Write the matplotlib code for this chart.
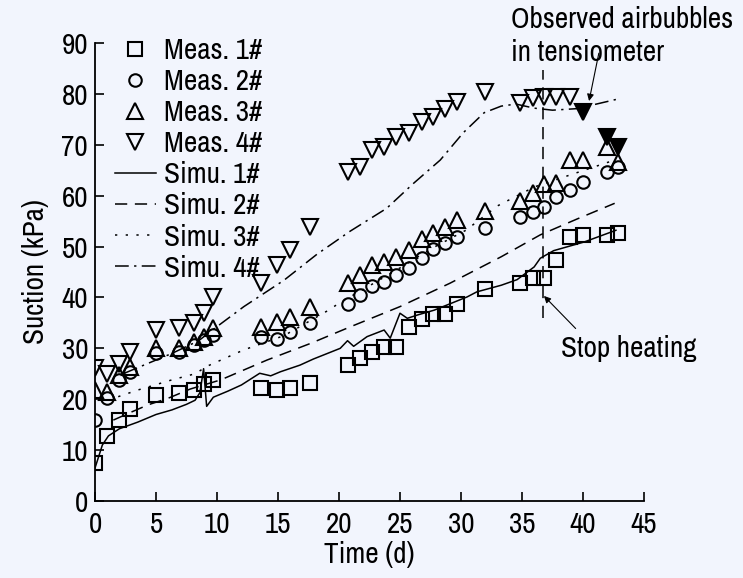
import matplotlib
matplotlib.use("Agg")
import matplotlib.pyplot as plt
from matplotlib import font_manager

# ── Fonts: the original uses an Arial-Narrow-like face ─────────────────────────
def _pick_font():
    for name in ("Archivo Narrow", "Roboto Condensed", "Liberation Sans"):
        try:
            font_manager.findfont(name, fallback_to_default=False)
            return name
        except ValueError:
            continue
    return "DejaVu Sans"

FONT = _pick_font()
plt.rcParams["font.family"] = [FONT, "DejaVu Sans"]
FS = 21

# ── Measured data (days, kPa) ──────────────────────────────────────────────────
days = [0, 1, 2, 2.9, 5, 6.9, 8.1, 8.9, 9.7, 13.6, 14.9, 16.0, 17.6, 20.7,
        21.7, 22.7, 23.7, 24.7, 25.7, 26.8, 27.7, 28.7, 29.7, 32.0, 34.8,
        35.9, 36.8, 37.8, 38.9, 40.0, 42.0, 42.9]

meas1 = [7.5, 12.8, 16.0, 18.0, 20.8, 21.3, 21.8, 22.9, 23.8, 22.3, 21.8,
         22.3, 23.2, 26.7, 28.2, 29.3, 30.3, 30.3, 34.2, 35.7, 36.7, 36.7,
         38.7, 41.6, 42.9, 43.8, 43.8, 47.3, 51.8, 52.3, 52.3, 52.7]

meas2 = [15.9, 20.2, 23.8, 25.4, 29.0, 29.3, 30.6, 31.6, 32.6, 32.3, 31.8,
         33.3, 34.9, 38.7, 40.4, 42.2, 43.1, 44.4, 45.7, 47.7, 49.6, 50.7,
         51.8, 53.6, 55.9, 56.8, 57.7, 59.7, 61.2, 62.7, 64.7, 65.7]

meas3 = [21.8, 21.5, 24.8, 26.4, 30.0, 30.0, 31.3, 32.3, 33.9, 34.2, 35.2,
         36.1, 38.1, 42.9, 44.4, 46.4, 47.0, 47.9, 49.4, 51.4, 52.6, 53.9,
         55.3, 57.0, 59.0, 60.5, 62.3, 62.5, 67.1, 67.1, 69.6, 66.7]

meas4_days = days[:29]
meas4 = [26.1, 25.0, 27.0, 29.3, 33.6, 33.9, 34.9, 36.9, 40.1, 42.9, 46.4,
         49.4, 53.9, 64.7, 65.7, 69.0, 69.6, 71.6, 72.4, 74.5, 75.5, 77.0,
         78.4, 80.4, 78.3, 79.1, 79.4, 79.3, 79.3]

# readings taken with air bubbles in the tensiometer (filled symbols)
bubble_days = [40.0, 42.0, 42.9]
bubble_vals = [76.5, 71.6, 69.5]

# ── Simulated curves ───────────────────────────────────────────────────────────
sim1_t = [0, 0.6, 1.1, 2.0, 3.5, 5.0, 6.3, 7.5, 8.2, 8.6, 8.9, 9.15, 9.7,
          10.9, 12.0, 13.5, 14.4, 15.2, 16.8, 17.9, 20.1, 20.7, 21.2, 22.3,
          23.7, 24.2, 25.0, 25.6, 26.5, 27.8, 30.5, 31.3, 33.3, 34.6, 36.0,
          36.5, 37.6, 40.1, 42.7]
sim1 = [6.5, 11.0, 12.8, 14.2, 15.5, 17.0, 17.9, 19.0, 19.8, 21.3, 26.0,
        18.6, 20.4, 21.6, 22.8, 25.1, 24.6, 25.4, 26.7, 27.9, 30.0, 31.5,
        30.4, 32.3, 33.6, 32.0, 36.9, 35.9, 36.6, 37.5, 40.1, 41.1, 42.4,
        43.5, 46.0, 47.7, 49.2, 50.9, 53.2]

sim2_t = [1.5, 3.0, 4.35, 6.0, 7.8, 10.3, 14.1, 17.7, 20.9, 25.0, 29.1,
          33.3, 36.5, 39.5, 42.6]
sim2 = [15.9, 17.5, 18.9, 20.2, 22.0, 23.8, 27.7, 31.0, 34.2, 38.2, 42.8,
        48.0, 52.3, 55.4, 58.5]

sim3_t = [1.9, 3.5, 6.3, 8.2, 9.2, 12.2, 15.5, 19.0, 20.1, 22.5, 25.0, 27.5,
          30.4, 33.0, 36.0, 40.1, 42.6]
sim3 = [20.5, 21.8, 23.8, 25.0, 26.5, 29.7, 32.5, 37.3, 39.0, 42.3, 45.8,
        49.5, 53.2, 58.0, 61.7, 65.0, 67.0]

sim4_t = [2.4, 6.3, 8.5, 9.4, 12.2, 15.5, 18.2, 20.9, 23.9, 26.1, 28.3, 30.2,
          31.9, 33.3, 34.5, 36.0, 37.5, 39.5, 42.7]
sim4 = [25.1, 29.0, 31.5, 33.2, 38.2, 43.4, 48.5, 53.0, 57.5, 62.4, 67.0,
        72.4, 76.3, 77.6, 78.0, 77.2, 76.8, 77.1, 78.9]

# ── Annotations ────────────────────────────────────────────────────────────────
STOP_DAY = 36.7
STOP_SPAN = (36.0, 84.7)
STOP_ARROW = ((39.4, 33.9), (36.8, 40.3))      # (tail, head)
BUBBLE_ARROW = ((41.3, 88.0), (40.5, 78.6))

BG = "#f2f5fd"
LW = 1.1
MEW = 1.5

fig = plt.figure(figsize=(7.43, 5.78), dpi=100)
fig.patch.set_facecolor(BG)
ax = fig.add_axes([0.1279, 0.1332, 0.8667 - 0.1279, 0.9256 - 0.1332])
ax.set_facecolor("none")

mk = dict(linestyle="none", markeredgecolor="black", markerfacecolor="none",
          markeredgewidth=MEW)
ax.plot(days, meas1, marker="s", markersize=9.5, label="Meas. 1#", **mk)
ax.plot(days, meas2, marker="o", markersize=9, label="Meas. 2#", **mk)
ax.plot(days, meas3, marker="^", markersize=11.5, label="Meas. 3#", **mk)
ax.plot(meas4_days, meas4, marker="v", markersize=11.5, label="Meas. 4#", **mk)
ax.plot(bubble_days, bubble_vals, linestyle="none", marker="v", markersize=11.5,
        color="black", markeredgewidth=MEW)

ax.plot(sim1_t, sim1, color="black", lw=LW, label="Simu. 1#")
ax.plot(sim2_t, sim2, color="black", lw=LW, dashes=(8, 5), label="Simu. 2#")
ax.plot(sim3_t, sim3, color="black", lw=LW, dashes=(1.5, 5.5), label="Simu. 3#")
ax.plot(sim4_t, sim4, color="black", lw=LW, dashes=(9, 3.5, 1.5, 3.5), label="Simu. 4#")

ax.plot([STOP_DAY, STOP_DAY], STOP_SPAN, color="black", lw=LW, dashes=(8, 5),
        clip_on=False)

ax.set_xlim(0, 45)
ax.set_ylim(0, 90)
ax.set_xticks(range(0, 46, 5))
ax.set_yticks(range(0, 91, 10))
for side in ("top", "right"):
    ax.spines[side].set_visible(False)
for side in ("left", "bottom"):
    ax.spines[side].set_linewidth(1.3)
ax.tick_params(direction="in", length=6.5, width=1.2, labelsize=FS)
ax.tick_params(axis="x", pad=7)
ax.tick_params(axis="y", pad=5)

ax.set_xlabel("Time (d)", fontsize=FS, labelpad=2)
ax.set_ylabel("Suction (kPa)", fontsize=FS, labelpad=9)

arrow = dict(arrowstyle="-|>", color="black", lw=0.8, mutation_scale=10,
             shrinkA=0, shrinkB=0)
ax.text(38.2, 30.0, "Stop heating", fontsize=FS, va="center", ha="left")
ax.annotate("", xy=STOP_ARROW[1], xytext=STOP_ARROW[0], arrowprops=arrow)
ax.text(34.1, 97.3, "Observed airbubbles\nin tensiometer", fontsize=FS,
        va="top", ha="left", linespacing=1.3, clip_on=False)
ax.annotate("", xy=BUBBLE_ARROW[1], xytext=BUBBLE_ARROW[0], arrowprops=arrow,
            annotation_clip=False)

ax.legend(loc="upper left", bbox_to_anchor=(0.036, 1.013), frameon=False,
          borderaxespad=0, borderpad=0, handlelength=1.4, handletextpad=0.3,
          labelspacing=0.14, fontsize=FS)

fig.savefig("out.png", dpi=100, facecolor=BG)
